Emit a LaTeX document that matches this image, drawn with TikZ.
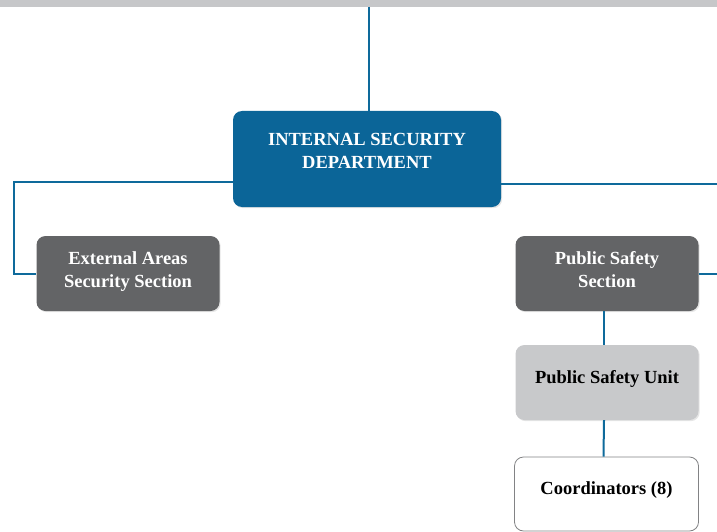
\documentclass[tikz,border=0pt]{standalone}
\usepackage{fontspec}
\setmainfont{Liberation Serif}
\usetikzlibrary{positioning,shadows}
\definecolor{deptblue}{HTML}{0B6598}
\definecolor{linkblue}{HTML}{0E6A9B}
\definecolor{secgray}{HTML}{636466}
\definecolor{unitgray}{HTML}{C8C9CB}
\definecolor{bandgray}{HTML}{C6C7C9}
\begin{document}
\begin{tikzpicture}[x=1pt,y=-1pt,
  box/.style={rounded corners=9pt,align=center,font=\fontsize{18.5}{22.5}\selectfont\bfseries,
    drop shadow={opacity=0.2,shadow xshift=1.2pt,shadow yshift=-1.2pt}},
  dept/.style={box,fill=deptblue,text=white,minimum width=268pt,minimum height=96pt,text depth=16pt},
  section/.style={box,fill=secgray,text=white,minimum width=183pt,minimum height=75pt,text depth=8pt},
  unit/.style={box,fill=unitgray,text=black,minimum width=183pt,minimum height=75pt,text depth=12pt},
  staff/.style={rounded corners=9pt,align=center,font=\fontsize{18.5}{22.5}\selectfont\bfseries,
    draw=secgray!80,line width=0.8pt,fill=white,minimum width=184pt,minimum height=74pt,text depth=12pt},
  link/.style={draw=linkblue,line width=2pt}]
\useasboundingbox (0,0) rectangle (717,532);
\fill[bandgray] (0,0) rectangle (717,7);
%\draw[pink] (0,0) grid[step=50] (717,532);
\node[dept] (dept) at (367,159) {INTERNAL SECURITY\\DEPARTMENT};
\node[section] (ext) at (128,273.5) {External Areas\\Security Section};
\node[section] (pss) at (607,273.5) {Public Safety\\Section};
\node[unit] (psu) at (607,382.5) {Public Safety Unit};
\node[staff] (coord) at (606.5,494) {Coordinators (8)};
\coordinate (top) at (369,7);
\coordinate (lbend) at (14,182);
\coordinate (redge) at (717,184);
\draw[link] (top) -- (top |- dept.north);
\draw[link] ([yshift=-23pt]dept.west) -- (lbend) |- (ext.west);
\draw[link] ([yshift=-25pt]dept.east) -- (redge);
\draw[link] ([xshift=-3pt]pss.south) -- ([xshift=-3pt]psu.north);
\draw[link] ([xshift=-3pt]psu.south) -- ([xshift=-3pt]coord.north);
\draw[link] (pss.east) -- (pss.east -| redge);
\end{tikzpicture}
\end{document}
